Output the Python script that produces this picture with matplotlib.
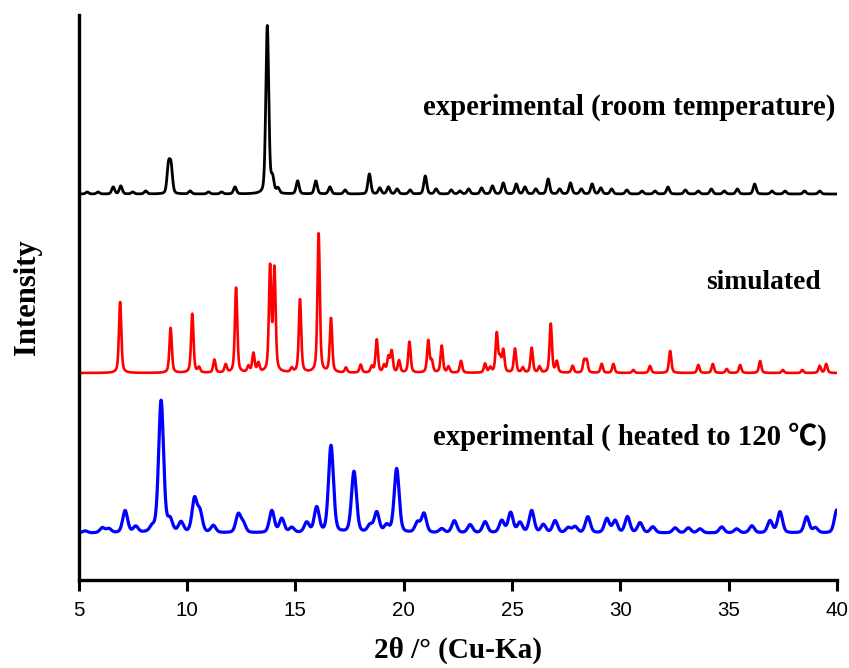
import numpy as np
import matplotlib
matplotlib.use("Agg")
import matplotlib.pyplot as plt

# ---- peak tables: 2-theta position (deg) and height above each pattern's baseline ----
room_pos = [5.40, 5.90, 6.60, 6.95, 7.50, 8.10, 9.15, 9.27, 10.15, 11.00, 11.60, 12.22,
            13.71, 13.95, 14.20, 15.11, 15.95, 16.60, 17.30, 18.42, 18.90, 19.30, 19.70,
            20.30, 21.00, 21.50, 22.20, 22.60, 23.00, 23.60, 24.10, 24.60, 25.20, 25.60,
            26.10, 26.67, 27.20, 27.70, 28.20, 28.70, 29.10, 29.60, 30.30, 31.00, 31.60,
            32.20, 33.00, 33.60, 34.20, 34.80, 35.40, 36.20, 37.00, 37.60, 38.50, 39.20]
room_int = [2, 2, 7, 8, 2, 3, 27, 26, 3, 2, 2, 7,
            168, 15, 5, 13, 13, 7, 4, 20, 6, 7, 5,
            4, 18, 5, 4, 3, 5, 6, 8, 11, 10, 7,
            5, 15, 5, 11, 5, 10, 6, 5, 4, 3, 3,
            7, 4, 3, 5, 3, 5, 10, 3, 3, 3, 3]

sim_pos = [6.92, 9.25, 10.25, 10.56, 11.27, 11.79, 12.27, 12.84, 13.07, 13.30, 13.84, 14.04,
           14.84, 15.22, 16.08, 16.65, 17.34, 18.02, 18.53, 18.76, 19.10, 19.30, 19.45,
           19.79, 20.27, 21.14, 21.30, 21.76, 22.07, 22.65, 23.76, 24.00, 24.30, 24.45,
           24.60, 25.14, 25.50, 25.91, 26.27, 26.79, 27.07, 27.80, 28.33, 28.45, 29.14,
           29.68, 30.60, 31.37, 32.30, 33.60, 34.27, 34.91, 35.53, 36.45, 37.50, 38.40,
           39.20, 39.50]
sim_int = [71, 45, 59, 5, 13, 8, 85, 6, 19, 9, 104, 102,
           4, 73, 139, 54, 5, 8, 6, 33, 7, 15, 21,
           12, 31, 32, 11, 27, 6, 12, 9, 5, 39, 13,
           22, 24, 5, 25, 6, 49, 11, 7, 12, 12, 9,
           9, 3, 7, 22, 8, 9, 4, 8, 12, 3, 3,
           7, 9]

heat_pos = [5.30, 6.10, 6.40, 7.15, 7.64, 8.40, 8.81, 9.22, 9.73, 10.35, 10.60, 11.22,
            12.37, 12.60, 13.92, 14.38, 14.84, 15.53, 15.99, 16.65, 17.71, 18.45, 18.76,
            19.22, 19.68, 20.64, 20.94, 21.76, 22.34, 23.07, 23.76, 24.53, 24.94, 25.37,
            25.91, 26.45, 26.99, 27.60, 27.91, 28.50, 29.38, 29.76, 30.33, 30.91, 31.50,
            32.53, 33.14, 33.68, 34.68, 35.37, 36.07, 36.91, 37.37, 38.60, 39.00, 39.99]
heat_int = [2, 5, 4, 22, 6, 5, 132, 12, 10, 33, 20, 7,
            18, 9, 22, 14, 5, 10, 25, 87, 61, 7, 20,
            7, 64, 10, 19, 4, 12, 8, 11, 12, 20, 10,
            22, 8, 12, 5, 6, 16, 14, 12, 16, 10, 6,
            5, 5, 4, 6, 4, 7, 12, 21, 16, 5, 23]

# baseline level (vertical offset) of each pattern and peak widths (FWHM, deg)
room_base, room_fwhm = 386, 0.16
sim_base, sim_fwhm = 207, 0.13
heat_base, heat_fwhm = 47, 0.27

tick_values = [5, 10, 15, 20, 25, 30, 35, 40]
xlabel = "2θ /° (Cu-Ka)"
ylabel = "Intensity"
label_room = "experimental (room temperature)"
label_sim = "simulated"
label_heat = "experimental ( heated to 120 ℃)"


def profile(x, pos, amp, fwhm, eta=0.5):
    """Pseudo-Voigt sum of the listed reflections."""
    y = np.zeros_like(x)
    s = fwhm / 2.3548
    g = fwhm / 2.0
    for p, a in zip(pos, amp):
        gauss = np.exp(-0.5 * ((x - p) / s) ** 2)
        lor = 1.0 / (1.0 + ((x - p) / g) ** 2)
        y += a * (eta * lor + (1 - eta) * gauss)
    return y


two_theta = np.linspace(5, 40, 3501)
room = room_base + profile(two_theta, room_pos, room_int, room_fwhm, 0.3)
sim = sim_base + profile(two_theta, sim_pos, sim_int, sim_fwhm, 0.5)
heat = heat_base + profile(two_theta, heat_pos, heat_int, heat_fwhm, 0.3)

fig = plt.figure(figsize=(8.49, 6.68), dpi=100)
ax = fig.add_axes([0.0925, 0.1317, 0.8934, 0.8458])

ax.plot(two_theta, room, color="black", lw=2.0)
ax.plot(two_theta, sim, color="#ff0000", lw=1.9)
ax.plot(two_theta, heat, color="#0000ff", lw=2.3)

ax.set_xlim(5, 40)
ax.set_ylim(0, 565)

for side in ("top", "right"):
    ax.spines[side].set_visible(False)
for side in ("left", "bottom"):
    ax.spines[side].set_linewidth(2.4)
    ax.spines[side].set_color("black")

ax.set_xticks(tick_values)
ax.set_xticklabels([str(t) for t in tick_values], fontfamily="Liberation Sans", fontsize=14.8)
ax.tick_params(axis="x", direction="out", length=8, width=2.2, pad=7)
ax.set_yticks([])

serif_bold = dict(fontfamily=["Liberation Serif", "Noto Sans CJK SC"], fontweight="bold")
ax.set_xlabel(xlabel, fontsize=21, labelpad=12, **serif_bold)
ax.set_ylabel(ylabel, fontsize=22, labelpad=26, **serif_bold)

ax.text(39.93, 473, label_room, ha="right", va="center", fontsize=20.7, **serif_bold)
ax.text(39.23, 298, label_sim, ha="right", va="center", fontsize=19.8, **serif_bold)
ax.text(39.54, 143, label_heat, ha="right", va="center", fontsize=20.7, **serif_bold)

fig.savefig("out.png", dpi=100)
